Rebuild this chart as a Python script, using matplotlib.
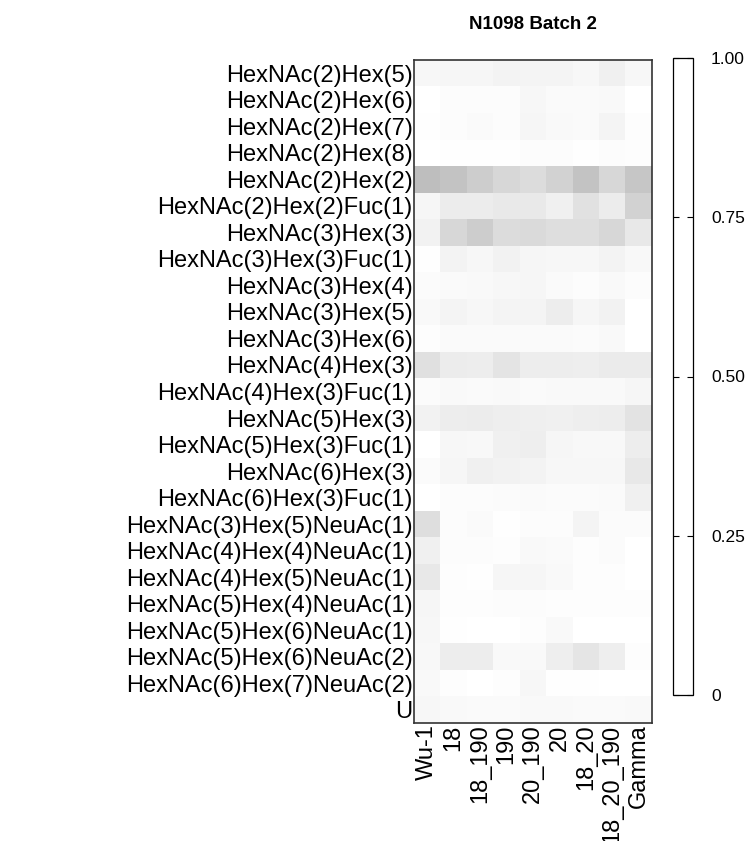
import matplotlib
matplotlib.use("Agg")
import matplotlib.pyplot as plt
from matplotlib.colors import LinearSegmentedColormap, ListedColormap
from matplotlib.cm import ScalarMappable
import numpy as np

plt.rcParams['font.family'] = ['Liberation Sans', 'DejaVu Sans']

samples = ['Wu-1', '18', '18_190', '190', '20_190', '20', '18_20', '18_20_190', 'Gamma']
glycans = [
    'HexNAc(2)Hex(5)', 'HexNAc(2)Hex(6)', 'HexNAc(2)Hex(7)', 'HexNAc(2)Hex(8)',
    'HexNAc(2)Hex(2)', 'HexNAc(2)Hex(2)Fuc(1)', 'HexNAc(3)Hex(3)',
    'HexNAc(3)Hex(3)Fuc(1)', 'HexNAc(3)Hex(4)', 'HexNAc(3)Hex(5)',
    'HexNAc(3)Hex(6)', 'HexNAc(4)Hex(3)', 'HexNAc(4)Hex(3)Fuc(1)',
    'HexNAc(5)Hex(3)', 'HexNAc(5)Hex(3)Fuc(1)', 'HexNAc(6)Hex(3)',
    'HexNAc(6)Hex(3)Fuc(1)', 'HexNAc(3)Hex(5)NeuAc(1)', 'HexNAc(4)Hex(4)NeuAc(1)',
    'HexNAc(4)Hex(5)NeuAc(1)', 'HexNAc(5)Hex(4)NeuAc(1)', 'HexNAc(5)Hex(6)NeuAc(1)',
    'HexNAc(5)Hex(6)NeuAc(2)', 'HexNAc(6)Hex(7)NeuAc(2)', 'U',
]

# relative abundance per glycan (rows) and sample (columns)
abundance = [
    [0.035, 0.039, 0.039, 0.047, 0.043, 0.043, 0.035, 0.059, 0.035],
    [0.000, 0.012, 0.012, 0.012, 0.035, 0.020, 0.020, 0.027, 0.000],
    [0.004, 0.012, 0.020, 0.012, 0.039, 0.027, 0.020, 0.043, 0.008],
    [0.000, 0.004, 0.004, 0.004, 0.012, 0.012, 0.004, 0.012, 0.008],
    [0.255, 0.235, 0.196, 0.157, 0.137, 0.176, 0.235, 0.157, 0.224],
    [0.039, 0.078, 0.078, 0.086, 0.086, 0.059, 0.118, 0.078, 0.176],
    [0.051, 0.157, 0.196, 0.137, 0.145, 0.129, 0.129, 0.157, 0.090],
    [0.004, 0.047, 0.035, 0.051, 0.039, 0.035, 0.035, 0.047, 0.031],
    [0.016, 0.020, 0.027, 0.035, 0.039, 0.020, 0.012, 0.027, 0.012],
    [0.024, 0.043, 0.035, 0.043, 0.043, 0.071, 0.039, 0.051, 0.000],
    [0.008, 0.020, 0.020, 0.020, 0.020, 0.020, 0.016, 0.027, 0.000],
    [0.122, 0.078, 0.071, 0.106, 0.071, 0.071, 0.067, 0.082, 0.082],
    [0.016, 0.024, 0.020, 0.027, 0.020, 0.024, 0.024, 0.027, 0.039],
    [0.051, 0.071, 0.078, 0.067, 0.063, 0.059, 0.067, 0.071, 0.110],
    [0.000, 0.035, 0.031, 0.059, 0.067, 0.039, 0.031, 0.031, 0.071],
    [0.016, 0.039, 0.059, 0.051, 0.047, 0.035, 0.035, 0.035, 0.090],
    [0.000, 0.012, 0.012, 0.016, 0.020, 0.016, 0.016, 0.020, 0.059],
    [0.129, 0.012, 0.020, 0.004, 0.012, 0.012, 0.043, 0.016, 0.016],
    [0.059, 0.012, 0.012, 0.008, 0.024, 0.020, 0.008, 0.016, 0.000],
    [0.090, 0.008, 0.004, 0.039, 0.039, 0.027, 0.008, 0.008, 0.000],
    [0.039, 0.008, 0.008, 0.012, 0.012, 0.008, 0.008, 0.008, 0.008],
    [0.035, 0.004, 0.000, 0.000, 0.008, 0.027, 0.000, 0.000, 0.000],
    [0.031, 0.071, 0.071, 0.027, 0.027, 0.067, 0.102, 0.067, 0.008],
    [0.027, 0.008, 0.000, 0.008, 0.035, 0.004, 0.004, 0.000, 0.000],
    [0.035, 0.024, 0.020, 0.020, 0.024, 0.024, 0.020, 0.020, 0.027],
]

cbar_ticks = [0, 0.25, 0.5, 0.75, 1.0]
cbar_labels = ['0', '0.25', '0.50', '0.75', '1.00']

data = np.array(abundance)
grey = LinearSegmentedColormap.from_list('wb', ['white', 'black'])

fig = plt.figure(figsize=(7.5, 8.41), dpi=100)
ax = fig.add_axes([414 / 750, 1 - 723 / 841, 238 / 750, 663 / 841])
ax.imshow(data, cmap=grey, vmin=0, vmax=1, aspect='auto', interpolation='nearest')
ax.set_xticks(range(len(samples)))
ax.set_xticklabels(samples, rotation=90, fontsize=17)
ax.set_yticks(range(len(glycans)))
ax.set_yticklabels(glycans, fontsize=17)
ax.tick_params(length=0, pad=1)
for s in ax.spines.values():
    s.set_color('#333333')
    s.set_linewidth(1.2)
ax.set_title('N1098 Batch 2', fontsize=13.5, fontweight='bold', pad=22)

# legend bar (drawn blank, ticks on both edges)
cax = fig.add_axes([673 / 750, 1 - 695 / 841, 20 / 750, 637 / 841])
sm = ScalarMappable(cmap=ListedColormap(['white']), norm=plt.Normalize(0, 1))
cb = fig.colorbar(sm, cax=cax)
cb.outline.set_linewidth(0.9)
cb.set_ticks(cbar_ticks)
cb.set_ticklabels(cbar_labels)
cax.tick_params(axis='y', direction='in', length=4, width=0.8, labelsize=12.5, pad=13,
                left=True, right=True)

fig.savefig('out.png', dpi=100)
